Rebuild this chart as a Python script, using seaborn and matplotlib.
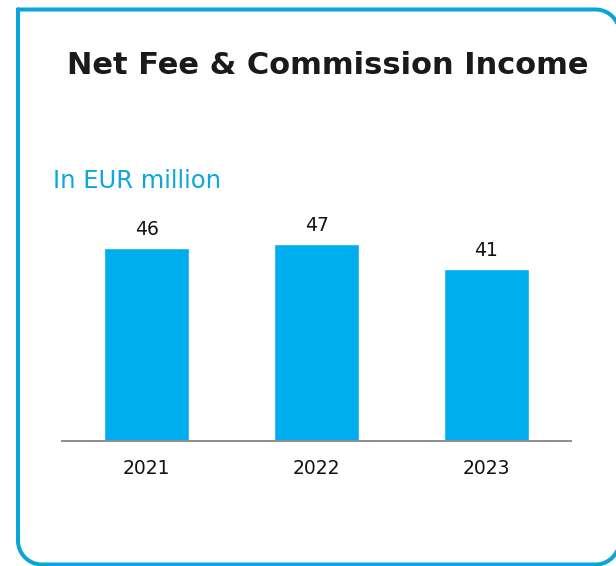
import matplotlib
matplotlib.use("Agg")
import matplotlib.pyplot as plt
from matplotlib.lines import Line2D
from matplotlib.transforms import Affine2D
import numpy as np
import seaborn as sns

# data
years = ["2021", "2022", "2023"]
income = [46, 47, 41]

BAR_COLOR = "#00AEEF"
BORDER_COLOR = "#0BA5DA"
W, H = 616, 566

sns.set_style("white")
plt.rcParams["font.family"] = ["DejaVu Sans"]

fig = plt.figure(figsize=(W / 100, H / 100), dpi=100)
ax = fig.add_axes([62 / W, 1 - 441 / H, (571 - 62) / W, 252 / H])

sns.barplot(x=years, y=income, color=BAR_COLOR, saturation=1, width=0.5, ax=ax)
ax.set_xlim(-0.5, 2.5)
ax.set_ylim(0, 60)
ax.bar_label(ax.containers[0], fontsize=13.5, padding=6, color="#111111")

sns.despine(ax=ax, left=True, top=True, right=True)
ax.spines["bottom"].set_color("#8c8c8c")
ax.spines["bottom"].set_linewidth(1.4)
ax.set_yticks([])
ax.set_xlabel("")
ax.set_ylabel("")
ax.tick_params(axis="x", length=0, pad=13, labelsize=13.5, labelcolor="#111111")

# titles
fig.text(328 / W, 1 - 65 / H, "Net Fee & Commission Income", ha="center", va="center",
         fontsize=22, fontweight="bold", color="#1a1a1a")
fig.text(53 / W, 1 - 181 / H, "In EUR million", ha="left", va="center",
         fontsize=17.5, color="#0DA7DD")

# border frame in pixel coords: square top-left corner, rounded others
x0, y0, x1, y1, r = 18, 9.5, 619.5, 564.5, 24


def corner(cx, cy, a0, a1):
    t = np.radians(np.linspace(a0, a1, 25))
    return cx + r * np.cos(t), cy + r * np.sin(t)


xs, ys = [x0], [y0]
for cx, cy, a0, a1 in [(x1 - r, y0 + r, -90, 0), (x1 - r, y1 - r, 0, 90),
                       (x0 + r, y1 - r, 90, 180)]:
    ax_, ay_ = corner(cx, cy, a0, a1)
    xs += list(ax_)
    ys += list(ay_)
xs.append(x0)
ys.append(y0)

px = Affine2D().scale(1 / W, -1 / H).translate(0, 1) + fig.transFigure
fig.add_artist(Line2D(xs, ys, transform=px, color=BORDER_COLOR, linewidth=2.9,
                      solid_joinstyle="miter"))

fig.savefig("out.png", dpi=100)
